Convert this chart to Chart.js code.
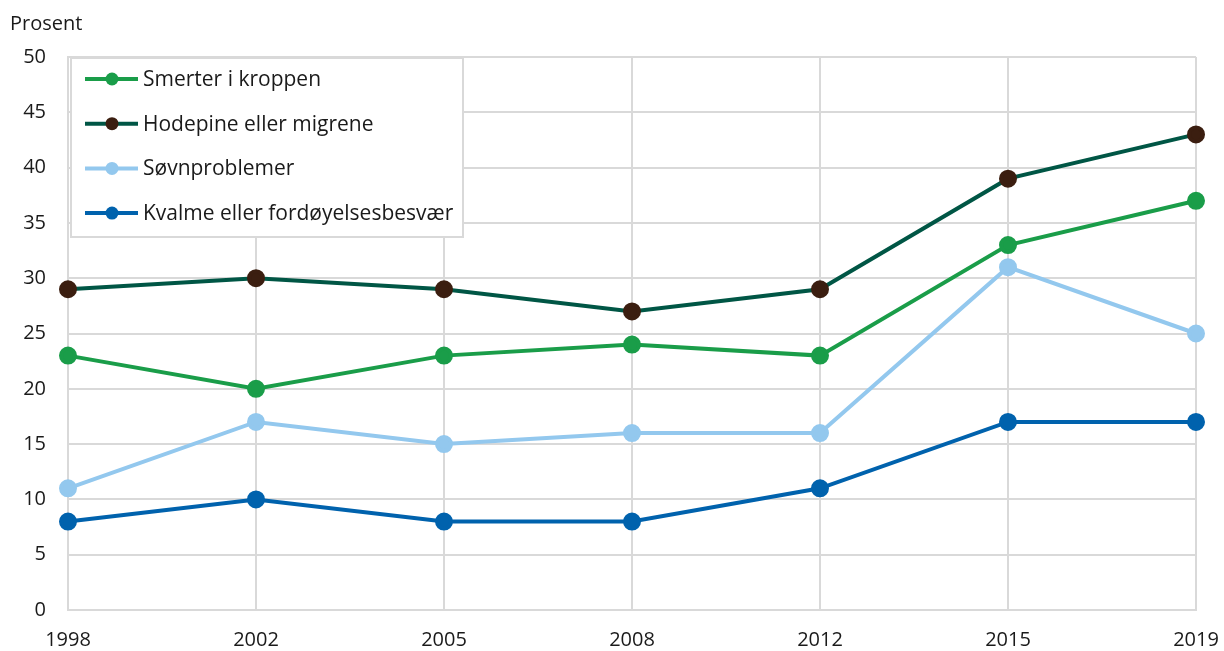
<!DOCTYPE html>
<html>
<head>
<meta charset="utf-8">
<script src="https://cdn.jsdelivr.net/npm/chart.js@4"></script>
<style>
  body { margin: 0; background: #fff; }
  #wrap { width: 1224px; height: 651px; }
</style>
</head>
<body>
<div id="wrap"><canvas id="grafik" width="1224" height="651"></canvas></div>
<script>
const years = ['1998', '2002', '2005', '2008', '2012', '2015', '2019'];
const smerter = [23, 20, 23, 24, 23, 33, 37];
const hodepine = [29, 30, 29, 27, 29, 39, 43];
const sovn = [11, 17, 15, 16, 16, 31, 25];
const kvalme = [8, 10, 8, 8, 11, 17, 17];
const seriesNames = ['Smerter i kroppen', 'Hodepine eller migrene', 'Søvnproblemer', 'Kvalme eller fordøyelsesbesvær'];

const font = '"Open Sans", sans-serif';
const gridColor = '#d9d9d9';

function lag(label, data, color, pointColor) {
  return {
    label, data,
    borderColor: color,
    backgroundColor: pointColor || color,
    pointBackgroundColor: pointColor || color,
    pointBorderColor: pointColor || color,
    borderWidth: 4,
    pointRadius: 7,
    pointHoverRadius: 7,
    tension: 0
  };
}

// legend box + "Prosent" drawn by hand
const egenLegend = {
  id: 'egenLegend',
  afterDraw(chart) {
    const ctx = chart.ctx;
    ctx.save();
    ctx.font = '20px ' + font;
    ctx.fillStyle = '#1a1a1a';
    ctx.textBaseline = 'middle';
    ctx.textAlign = 'left';
    ctx.fillText('Prosent', 10, 24);

    ctx.fillStyle = '#fff';
    ctx.fillRect(71, 58, 392, 179);
    ctx.strokeStyle = gridColor;
    ctx.lineWidth = 2;
    ctx.strokeRect(71, 58, 392, 179);

    ctx.font = '21px ' + font;
    chart.data.datasets.forEach((ds, i) => {
      const y = 79 + i * 44.7;
      ctx.strokeStyle = ds.borderColor;
      ctx.lineWidth = 4;
      ctx.beginPath();
      ctx.moveTo(85, y);
      ctx.lineTo(138, y);
      ctx.stroke();
      ctx.fillStyle = ds.pointBackgroundColor;
      ctx.beginPath();
      ctx.arc(112, y, 6.5, 0, Math.PI * 2);
      ctx.fill();
      ctx.fillStyle = '#1a1a1a';
      ctx.fillText(ds.label, 143, y + 1);
    });
    ctx.restore();
  }
};

new Chart(document.getElementById('grafik').getContext('2d'), {
  type: 'line',
  data: {
    labels: years,
    datasets: [
      lag(seriesNames[0], smerter, '#1a9d49'),
      lag(seriesNames[1], hodepine, '#005645', '#3b1e10'),
      lag(seriesNames[2], sovn, '#93c8ee'),
      lag(seriesNames[3], kvalme, '#0062ad')
    ]
  },
  options: {
    responsive: false,
    animation: false,
    layout: { padding: { top: 57, right: 28, left: 0, bottom: 0 } },
    plugins: { legend: { display: false }, tooltip: { enabled: false } },
    scales: {
      x: {
        offset: false,
        grid: { color: gridColor, lineWidth: 2, drawTicks: false },
        border: { color: gridColor, width: 2 },
        ticks: { color: '#1a1a1a', font: { family: font, size: 20 }, padding: 18, maxRotation: 0 },
        afterFit(s) { s.height = 41; s.paddingLeft = 0; s.paddingRight = 0; }
      },
      y: {
        min: 0, max: 50,
        grid: { color: gridColor, lineWidth: 2, drawTicks: false },
        border: { color: gridColor, width: 2 },
        ticks: { stepSize: 5, color: '#1a1a1a', font: { family: font, size: 20 }, padding: 22 },
        afterFit(s) { s.width = 68; s.paddingTop = 0; s.paddingBottom = 0; }
      }
    }
  },
  plugins: [egenLegend]
});
</script>
</body>
</html>
